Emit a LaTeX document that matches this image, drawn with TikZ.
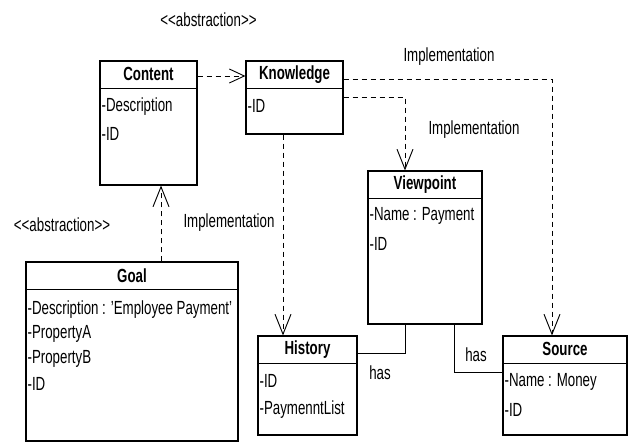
\documentclass[tikz,border=0pt]{standalone}
\usepackage{fontspec}
\setmainfont{Liberation Sans}[FakeStretch=0.7]
\usetikzlibrary{arrows.meta,calc}

\tikzset{
	cls/.style={draw, line width=1.2pt, inner sep=0pt},
	hd/.style={font=\fontsize{19}{22}\selectfont\bfseries, inner sep=0pt},
	attr/.style={font=\fontsize{19}{22}\selectfont, anchor=west, inner sep=0pt},
	lbl/.style={font=\fontsize{19}{22}\selectfont, inner sep=0pt},
	dep/.style={line width=0.9pt, dash pattern=on 5pt off 4pt, -{Straight Barb[length=20pt,width=16pt]}},
	deph/.style={dep, -{Straight Barb[length=15pt,width=14pt]}},
	assoc/.style={line width=1pt},
}

\begin{document}
\begin{tikzpicture}[x=1pt,y=-1pt]
			\useasboundingbox (0,0) rectangle (633,443);
			% Các lớp
			\node[cls, minimum width=97pt, minimum height=124pt] (content) at (148.5,123) {};
			\node[cls, minimum width=97pt, minimum height=73pt] (knowledge) at (294.5,97.5) {};
			\node[cls, minimum width=114pt, minimum height=153pt] (viewpoint) at (425,247.5) {};
			\node[cls, minimum width=212pt, minimum height=179pt] (goal) at (132,351.5) {};
			\node[cls, minimum width=99pt, minimum height=99pt] (history) at (307.5,385.5) {};
			\node[cls, minimum width=124pt, minimum height=99pt] (source) at (565,385.5) {};
			\foreach \c/\t in {content/Content,knowledge/Knowledge,viewpoint/Viewpoint,goal/Goal,history/History,source/Source}
			{
			\draw[line width=1.2pt] ($(\c.north west)+(0,28)$) -- ($(\c.north east)+(0,28)$);
			\node[hd] (\c-title) at ($(\c.north)+(0,14)$) {\t};
			}
			% Thuộc tính
			\foreach \a [count=\i from 0] in {-Description,-ID}
			\node[attr] (content-a\i) at ($(content.north west)+(2,46+28*\i)$) {\a};
			\node[attr] (knowledge-a0) at ($(knowledge.north west)+(2,46)$) {-ID};
			\foreach \a [count=\i from 0] in {-Name : Payment,-ID}
			\node[attr] (viewpoint-a\i) at ($(viewpoint.north west)+(2,46+28*\i)$) {\a};
			\foreach \a [count=\i from 0] in {-Description : 'Employee Payment',-PropertyA,-PropertyB,-ID}
			\node[attr] (goal-a\i) at ($(goal.north west)+(2,48+25*\i)$) {\a};
			\foreach \a [count=\i from 0] in {-ID,-PaymenntList}
			\node[attr] (history-a\i) at ($(history.north west)+(2,46+28*\i)$) {\a};
			\foreach \a [count=\i from 0] in {-Name : Money,-ID}
			\node[attr] (source-a\i) at ($(source.north west)+(2,47+28*\i)$) {\a};
			% Quan hệ
			\draw[deph] (content.east |- 0,76) -- (knowledge.west |- 0,76);
			\draw[dep] (knowledge.east |- 0,79) -| (source.north -| 552,0);
			\draw[dep] (knowledge.east |- 0,97) -| (viewpoint.north -| 405,0);
			\draw[dep] (knowledge.south -| 283,0) -- (history.north -| 283,0);
			\draw[dep] (goal.north -| 161,0) -- (content.south -| 161,0);
			\draw[assoc] (viewpoint.south -| 405,0) |- (history.east |- 0,354);
			\draw[assoc] (viewpoint.south -| 454,0) |- (source.west |- 0,373);
			% Nhãn
			\node[lbl] (abs1) at (208.5,20) {<{}<abstraction>{}>};
			\node[lbl] (abs2) at (62,225) {<{}<abstraction>{}>};
			\node[lbl] (impl1) at (449,57) {Implementation};
			\node[lbl] (impl2) at (474,130) {Implementation};
			\node[lbl] (impl3) at (229,223) {Implementation};
			\node[lbl] (has1) at (380,373) {has};
			\node[lbl] (has2) at (476,355) {has};
		\end{tikzpicture}
\end{document}
